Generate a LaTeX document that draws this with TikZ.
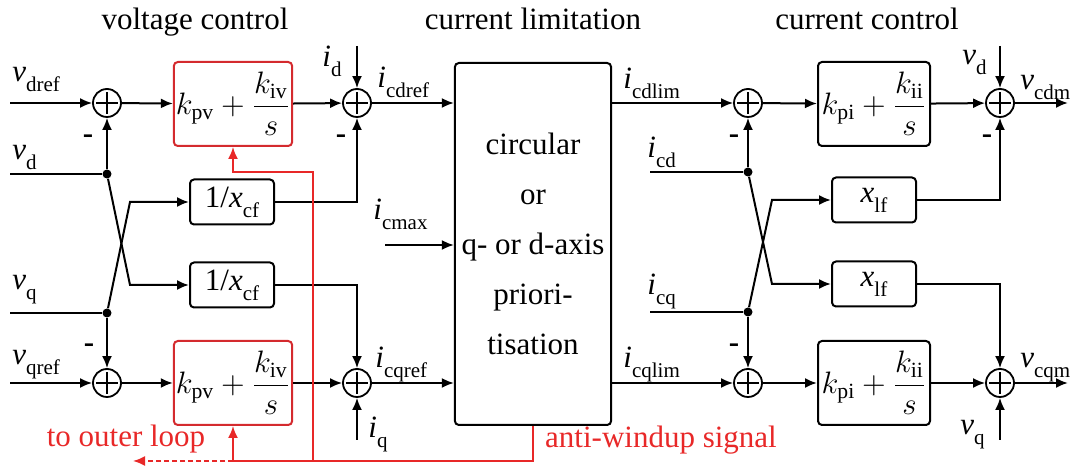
\RequirePackage{fix-cm}
\documentclass[tikz,border=0pt]{standalone}
\usepackage{amsmath}
\usepackage{fontspec}
\setmainfont{Liberation Serif}
\usetikzlibrary{arrows.meta, positioning, calc}
\definecolor{awred}{RGB}{232,40,40}
\definecolor{boxred}{RGB}{212,42,46}
\newcommand{\sg}[2]{\textit{#1}\raisebox{-0.32em}{\fontsize{10.5}{12}\selectfont #2}}
\tikzset{
    every node/.style={font=\fontsize{15.5}{18}\selectfont},
    box/.style={
        draw,
        rounded corners=2pt,
        line width=1pt,
        minimum width=56pt,
        minimum height=42pt,
        inner sep=1pt
    },
    redbox/.style={box, draw=boxred},
    gainbox/.style={
        draw,
        rounded corners=2pt,
        line width=1pt,
        minimum width=42pt,
        minimum height=22.5pt,
        inner sep=1pt
    },
    limbox/.style={
        draw,
        rounded corners=2pt,
        line width=1pt,
        minimum width=77pt,
        minimum height=181pt,
        align=center,
        font=\fontsize{15.5}{25}\selectfont
    },
    sum/.style={
        circle,
        draw,
        line width=0.9pt,
        minimum size=14pt,
        inner sep=0pt,
        path picture={
            \draw[line width=0.9pt]
              ([xshift=-5.5pt]path picture bounding box.center) -- ([xshift=5.5pt]path picture bounding box.center)
              ([yshift=-5.5pt]path picture bounding box.center) -- ([yshift=5.5pt]path picture bounding box.center);
        }
    },
    junction/.style={circle, fill, minimum size=4.5pt, inner sep=0pt},
    line/.style={-{Latex[length=6pt,width=5pt]}, line width=1pt},
    plainline/.style={line width=1pt},
    redline/.style={-{Latex[length=6pt,width=5pt]}, draw=awred, line width=0.9pt},
    dashedred/.style={redline, dash pattern=on 2.5pt off 1.5pt},
    sig/.style={anchor=base west, inner sep=0pt},
    minus/.style={font=\fontsize{15.5}{18}\selectfont\bfseries, inner sep=0pt},
    title/.style={anchor=base, inner sep=0pt},
    redlabel/.style={anchor=base, inner sep=0pt, text=awred}
}

\begin{document}
\begin{tikzpicture}[x=0.5pt, y=-0.5pt]
\useasboundingbox (0,0) rectangle (1083,469);

% titles
\node[title] (tVolt) at (195,30) {voltage control};
\node[title] (tLim) at (533,30) {current limitation};
\node[title] (tCur) at (867,30) {current control};

% voltage control
\node[sum] (sumVd) at (107,103) {};
\node[sum] (sumVq) at (107,383) {};
\node[redbox] (piD) at (233,104) {$k_{\mathrm{pv}}+\dfrac{k_{\mathrm{iv}}}{s}$};
\node[redbox] (piQ) at (233,383) {$k_{\mathrm{pv}}+\dfrac{k_{\mathrm{iv}}}{s}$};
\node[gainbox] (xcfD) at (232,202) {1/\textit{x}\raisebox{-0.32em}{\fontsize{10.5}{12}\selectfont cf}};
\node[gainbox] (xcfQ) at (232,285) {1/\textit{x}\raisebox{-0.32em}{\fontsize{10.5}{12}\selectfont cf}};
\node[sum] (sumId) at (357,103) {};
\node[sum] (sumIq) at (357,383) {};
\node[junction] (dotVd) at (107,174) {};
\node[junction] (dotVq) at (107,313) {};

\coordinate (inVdref) at (10,103);
\coordinate (inVd) at (10,174);
\coordinate (inVq) at (10,313);
\coordinate (inVqref) at (10,383);
\coordinate (inId) at (357,46);
\coordinate (inIq) at (357,440);
\coordinate (kinkD) at (130,202);
\coordinate (kinkQ) at (130,285);

\node[sig] (lVdref) at (12,82) {\sg{v}{dref}};
\node[sig] (lVd) at (12,160) {\sg{v}{d}};
\node[sig] (lVq) at (12,290) {\sg{v}{q}};
\node[sig] (lVqref) at (12,365) {\sg{v}{qref}};
\node[sig] (lId) at (322,67) {\sg{i}{d}};
\node[sig] (lIq) at (368,438) {\sg{i}{q}};
\node[sig] (lIcdref) at (377,88) {\sg{i}{cdref}};
\node[sig] (lIcqref) at (375,368) {\sg{i}{cqref}};

\node[minus] (mVd) at (88,139) {-};
\node[minus] (mId) at (341,139) {-};
\node[minus] (mVq) at (89,348) {-};

\draw[line] (inVdref) -- (sumVd);
\draw[line] (sumVd) -- (piD);
\draw[line] (piD) -- (sumId);
\draw[plainline] (inVd) -- (dotVd);
\draw[line] (dotVd) -- (sumVd);
\draw[plainline] (inVq) -- (dotVq);
\draw[line] (dotVq) -- (sumVq);
\draw[line] (inVqref) -- (sumVq);
\draw[line] (sumVq) -- (piQ);
\draw[line] (piQ) -- (sumIq);
\draw[line] (dotVd) -- (kinkQ) -- (xcfQ.west);
\draw[line] (dotVq) -- (kinkD) -- (xcfD.west);
\draw[line] (xcfD.east) -| (sumId.south);
\draw[line] (xcfQ.east) -| (sumIq.north);
\draw[line] (inId) -- (sumId);
\draw[line] (inIq) -- (sumIq);

% current limitation
\node[limbox] (lim) at (533,244) {circular\\or\\q- or d-axis\\priori-\\tisation};
\coordinate (inImax) at (385,245);
\node[sig] (lImax) at (373,220) {\sg{i}{cmax}};
\draw[line] (sumId) -- (sumId -| lim.west);
\draw[line] (sumIq) -- (sumIq -| lim.west);
\draw[line] (inImax) -- (inImax -| lim.west);

% current control
\node[sum] (sumCd) at (748,103) {};
\node[sum] (sumCq) at (748,383) {};
\node[box] (piCd) at (874,104) {$k_{\mathrm{pi}}+\dfrac{k_{\mathrm{ii}}}{s}$};
\node[box] (piCq) at (874,383) {$k_{\mathrm{pi}}+\dfrac{k_{\mathrm{ii}}}{s}$};
\node[gainbox] (xlfD) at (874,200) {\sg{x}{lf}};
\node[gainbox] (xlfQ) at (874,284) {\sg{x}{lf}};
\node[sum] (sumVcd) at (1000,103) {};
\node[sum] (sumVcq) at (1000,383) {};
\node[junction] (dotIcd) at (748,172) {};
\node[junction] (dotIcq) at (748,312) {};

\coordinate (inIcd) at (650,172);
\coordinate (inIcq) at (650,312);
\coordinate (inVdr) at (1000,46);
\coordinate (inVqr) at (1000,440);
\coordinate (outVcd) at (1068,103);
\coordinate (outVcq) at (1068,383);
\coordinate (kinkXD) at (772,200);
\coordinate (kinkXQ) at (772,284);

\node[sig] (lIcdlim) at (623,89) {\sg{i}{cdlim}};
\node[sig] (lIcqlim) at (623,368) {\sg{i}{cqlim}};
\node[sig] (lIcd) at (647,158) {\sg{i}{cd}};
\node[sig] (lIcq) at (647,295) {\sg{i}{cq}};
\node[sig] (lVdr) at (962,65) {\sg{v}{d}};
\node[sig] (lVqr) at (960,435) {\sg{v}{q}};
\node[sig] (lVcdm) at (1020,90) {\sg{v}{cdm}};
\node[sig] (lVcqm) at (1020,368) {\sg{v}{cqm}};

\node[minus] (mIcd) at (734,139) {-};
\node[minus] (mVcd) at (987,139) {-};
\node[minus] (mIcq) at (734,348) {-};

\draw[line] (lim.east |- sumCd) -- (sumCd);
\draw[line] (lim.east |- sumCq) -- (sumCq);
\draw[line] (sumCd) -- (piCd);
\draw[line] (sumCq) -- (piCq);
\draw[line] (piCd) -- (sumVcd);
\draw[line] (piCq) -- (sumVcq);
\draw[line] (sumVcd) -- (outVcd);
\draw[line] (sumVcq) -- (outVcq);
\draw[plainline] (inIcd) -- (dotIcd);
\draw[line] (dotIcd) -- (sumCd);
\draw[plainline] (inIcq) -- (dotIcq);
\draw[line] (dotIcq) -- (sumCq);
\draw[line] (dotIcd) -- (kinkXQ) -- (xlfQ.west);
\draw[line] (dotIcq) -- (kinkXD) -- (xlfD.west);
\draw[line] (xlfD.east) -| (sumVcd.south);
\draw[line] (xlfQ.east) -| (sumVcq.north);
\draw[line] (inVdr) -- (sumVcd);
\draw[line] (inVqr) -- (sumVcq);

% anti-windup feedback
\coordinate (awBot) at (313,461);
\coordinate (awTop) at (313,172);
\coordinate (outer) at (133,461);
\draw[redline] (lim.south) |- (awBot) -| (piQ.south);
\draw[redline] (awBot) -- (awTop) -| (piD.south);
\draw[dashedred] (piQ.south |- awBot) -- (outer);
\node[redlabel] (lOuter) at (126,447) {to outer loop};
\node[redlabel] (lAw) at (661,448) {anti-windup signal};
\end{tikzpicture}
\end{document}
